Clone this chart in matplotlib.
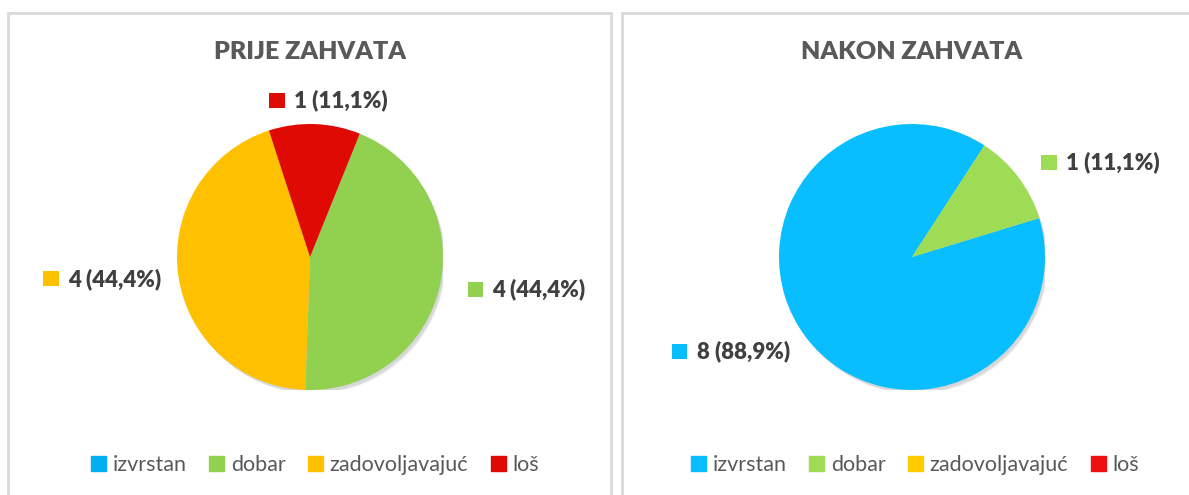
import matplotlib.pyplot as plt
import numpy as np
from matplotlib.patches import Rectangle, Circle, Patch
from matplotlib.offsetbox import HPacker, TextArea, DrawingArea, AnnotationBbox

plt.rcParams['font.family'] = ['Lato', 'DejaVu Sans']

categories = ['izvrstan', 'dobar', 'zadovoljavajuć', 'loš']
before = [0, 4, 4, 1]
after = [8, 1, 0, 0]
titles = ['PRIJE ZAHVATA', 'NAKON ZAHVATA']

colors_left = ['#00B0F0', '#92D050', '#FFC000', '#E00A05']
colors_right = ['#08BEFF', '#9EDC55', '#FFCC00', '#EE1111']
first_angle = [22, 73]   # excel "angle of first slice", clockwise from top

W, H = 1189, 495
fig = plt.figure(figsize=(W / 100, H / 100), dpi=100)
fig.patch.set_facecolor('white')

# chart frames
border = '#D9D9D9'
fig.add_artist(Rectangle((8 / W, -0.1), 603 / W, 1.1 - 13 / H, transform=fig.transFigure,
                         fill=False, ec=border, lw=2))
fig.add_artist(Rectangle((622 / W, -0.1), 700 / W, 1.1 - 13 / H, transform=fig.transFigure,
                         fill=False, ec=border, lw=2))

centers_x = [310, 912]
cy, r = 257, 133


def label_box(text, color):
    da = DrawingArea(11, 11, 0, 0)
    da.add_artist(Rectangle((0, 0), 11, 11, fc=color, ec='none'))
    ta = TextArea(text, textprops=dict(fontsize=16, fontweight='heavy', color='#404040'))
    return HPacker(children=[da, ta], align='center', pad=0, sep=7)


for i, (vals, cols) in enumerate([(before, colors_left), (after, colors_right)]):
    cx = centers_x[i]
    ax = fig.add_axes([(cx - r) / W, (H - cy - r) / H, 2 * r / W, 2 * r / H])

    # soft shadow
    for k, a in enumerate([0.05, 0.05, 0.06]):
        ax.add_patch(Circle((0.012 + 0.008 * k, -0.02 - 0.008 * k), 1.0 - 0.004 * k,
                            fc='black', alpha=a, ec='none', zorder=0))

    ax.pie(vals, colors=cols, startangle=90 - first_angle[i], counterclock=False,
           radius=1, wedgeprops=dict(linewidth=0), normalize=True)
    ax.set_xlim(-1, 1)
    ax.set_ylim(-1, 1)
    ax.set_aspect('equal')
    ax.axis('off')

    total = sum(vals)
    cum = 0
    for v, c in zip(vals, cols):
        if v == 0:
            continue
        mid = first_angle[i] + (cum + v / 2) / total * 360
        cum += v
        th = np.deg2rad(mid)
        px, py = 1.18 * np.sin(th), 1.18 * np.cos(th)
        if abs(px) < 0.3:
            align = (0.5, 0.5)
            px += 0.1
        elif px > 0:
            align = (0, 0.5)
            px += 0.03
        else:
            align = (1, 0.5)
            px += 0.06 * (1 - abs(np.cos(th)))
        ab = AnnotationBbox(label_box(f"{v} ({v / 9 * 100:.1f}%)".replace('.', ','), c),
                            (px, py), xycoords='data', box_alignment=align,
                            frameon=False, annotation_clip=False)
        ax.add_artist(ab)

    fig.text(cx / W, 1 - 52 / H, titles[i], ha='center', va='center',
             fontsize=18, fontweight='heavy', color='#595959')

    handles = [Patch(color=c) for c in cols]
    leg_x = [315, 915][i]
    fig.legend(handles, categories, loc='center', bbox_to_anchor=(leg_x / W, 1 - 465 / H),
               ncol=4, frameon=False, fontsize=15.5, handlelength=0.7, handleheight=0.7,
               handletextpad=0.3, columnspacing=1.05, labelcolor='#595959')

fig.savefig('out.png', dpi=100)
